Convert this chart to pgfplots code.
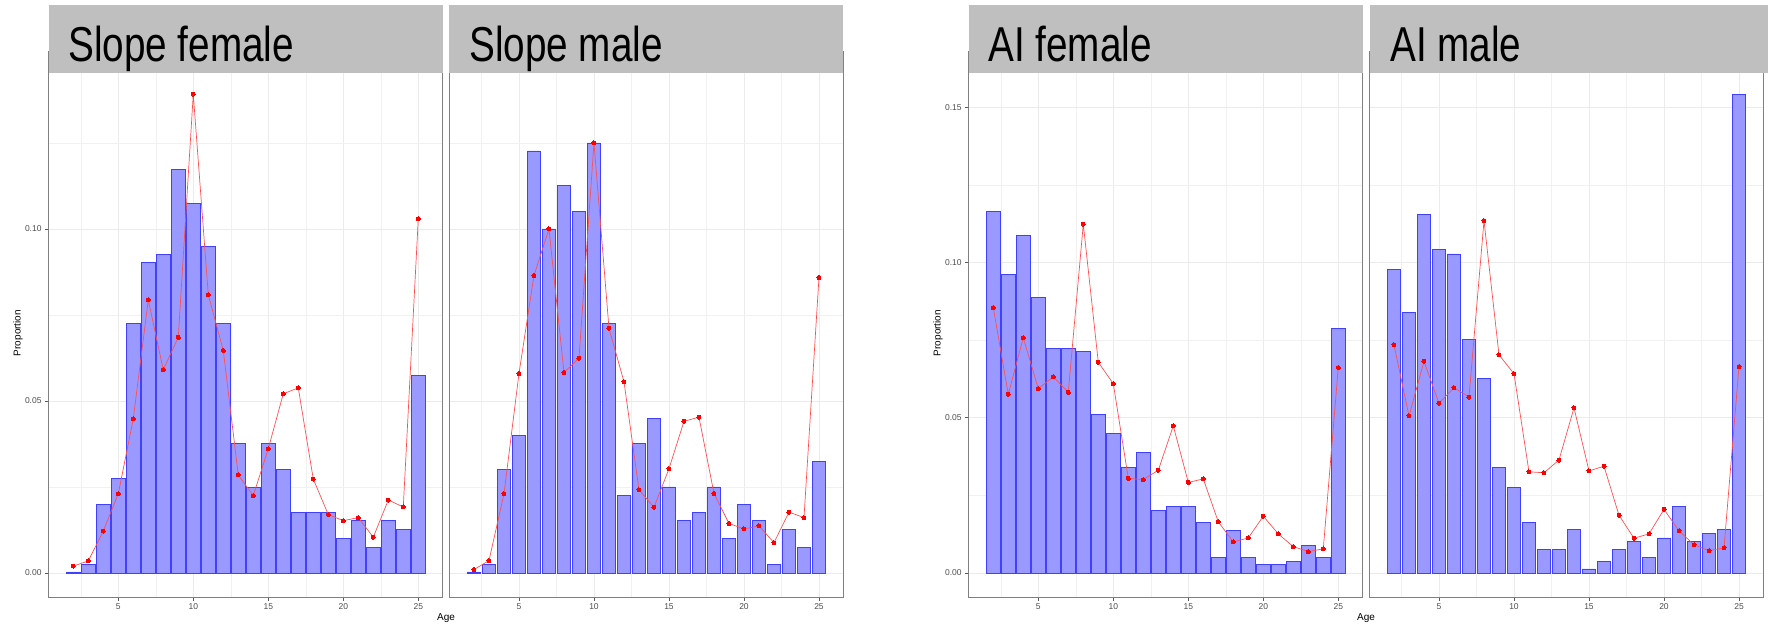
\documentclass[border=0pt]{standalone}
\usepackage{fontspec}
\setmainfont{Liberation Sans}
\usepackage{graphicx}
\usepackage{pgfplots}
\pgfplotsset{compat=1.18}
\definecolor{barfill}{RGB}{153,153,255}
\definecolor{baredge}{RGB}{64,64,255}
\definecolor{linered}{RGB}{255,80,80}
\definecolor{stripgray}{RGB}{191,191,191}
\definecolor{bordergray}{RGB}{128,128,128}
\definecolor{gridgray}{RGB}{235,235,235}
\definecolor{ticklab}{RGB}{77,77,77}
\pgfplotsset{
 panel/.style={
  scale only axis, width=394.35pt, height=545.3pt,
  xmin=0.355, xmax=26.645,
  xtick={5,10,15,20,25}, xticklabels={5,10,15,20,25},
  minor xtick={2.5,7.5,12.5,17.5,22.5},
  grid=both,
  major grid style={gridgray, line width=0.9pt},
  minor grid style={gridgray!70, line width=0.5pt},
  axis line style={bordergray, line width=1pt},
  tick align=outside, tick pos=left,
  major tick length=3.5pt, minor tick length=0pt,
  tick style={bordergray!70!black, line width=0.7pt},
  tick label style={font=\fontsize{8.5}{10}\selectfont, text=ticklab},
  /pgf/number format/assume math mode=true,
  anchor=south west,
 },
 slope/.style={ymin=-0.00698, ymax=0.15154, ytick={0,0.05,0.1}, yticklabels={0.00,0.05,0.10}, minor ytick={0.025,0.075,0.125}},
 ai/.style={ymin=-0.00773, ymax=0.16795, ytick={0,0.05,0.1,0.15}, yticklabels={0.00,0.05,0.10,0.15}, minor ytick={0.025,0.075,0.125}},
 noylab/.style={yticklabels={}, ytick style={draw=none}},
 bars/.style={ybar, bar width=0.9, fill=barfill, draw=baredge, line width=0.8pt},
 pts/.style={linered, line width=0.7pt, mark=*, mark size=2pt, mark options={fill=red, draw=red, line width=0pt}},
}
\pgfplotstableread{
x bar pt
2 0.0003 0.0020
3 0.0025 0.0035
4 0.0200 0.0122
5 0.0275 0.0230
6 0.0726 0.0448
7 0.0902 0.0794
8 0.0925 0.0591
9 0.1174 0.0685
10 0.1075 0.1392
11 0.0950 0.0809
12 0.0726 0.0647
13 0.0376 0.0285
14 0.0249 0.0225
15 0.0376 0.0361
16 0.0301 0.0521
17 0.0175 0.0538
18 0.0175 0.0273
19 0.0175 0.0170
20 0.0101 0.0152
21 0.0152 0.0161
22 0.0074 0.0104
23 0.0152 0.0212
24 0.0126 0.0192
25 0.0575 0.1030
}\slopefemale
\pgfplotstableread{
x bar pt
2 0.0003 0.0010
3 0.0025 0.0036
4 0.0301 0.0230
5 0.0400 0.0580
6 0.1227 0.0865
7 0.1000 0.1000
8 0.1126 0.0583
9 0.1051 0.0624
10 0.1250 0.1250
11 0.0726 0.0711
12 0.0226 0.0556
13 0.0376 0.0242
14 0.0450 0.0191
15 0.0250 0.0303
16 0.0152 0.0441
17 0.0175 0.0453
18 0.0250 0.0231
19 0.0101 0.0144
20 0.0200 0.0128
21 0.0152 0.0137
22 0.0025 0.0088
23 0.0126 0.0177
24 0.0074 0.0161
25 0.0325 0.0859
}\slopemale
\pgfplotstableread{
x bar pt
2 0.1164 0.0855
3 0.0963 0.0576
4 0.1087 0.0758
5 0.0888 0.0594
6 0.0724 0.0632
7 0.0724 0.0582
8 0.0714 0.1124
9 0.0512 0.0679
10 0.0450 0.0610
11 0.0340 0.0305
12 0.0388 0.0301
13 0.0201 0.0331
14 0.0214 0.0474
15 0.0214 0.0292
16 0.0164 0.0303
17 0.0050 0.0165
18 0.0137 0.0100
19 0.0050 0.0113
20 0.0027 0.0183
21 0.0027 0.0126
22 0.0037 0.0085
23 0.0090 0.0069
24 0.0050 0.0078
25 0.0788 0.0662
}\aifemale
\pgfplotstableread{
x bar pt
2 0.0977 0.0735
3 0.0838 0.0506
4 0.1154 0.0682
5 0.1041 0.0547
6 0.1028 0.0597
7 0.0753 0.0567
8 0.0627 0.1135
9 0.0340 0.0703
10 0.0276 0.0642
11 0.0163 0.0326
12 0.0076 0.0323
13 0.0076 0.0364
14 0.0140 0.0532
15 0.0013 0.0329
16 0.0037 0.0344
17 0.0076 0.0186
18 0.0103 0.0112
19 0.0050 0.0126
20 0.0113 0.0205
21 0.0213 0.0136
22 0.0103 0.0091
23 0.0127 0.0072
24 0.0140 0.0081
25 0.1542 0.0665
}\aimale
\begin{document}
\begin{tikzpicture}
\useasboundingbox (0pt,0pt) rectangle (1768pt,624pt);
\begin{axis}[panel, slope, at={(48.6pt,27pt)}]
\addplot[bars] table[x=x,y=bar]{\slopefemale};
\addplot[pts] table[x=x,y=pt]{\slopefemale};
\end{axis}
\begin{axis}[panel, slope, noylab, at={(449.3pt,27pt)}]
\addplot[bars] table[x=x,y=bar]{\slopemale};
\addplot[pts] table[x=x,y=pt]{\slopemale};
\end{axis}
\begin{axis}[panel, ai, at={(968.6pt,27pt)}]
\addplot[bars] table[x=x,y=bar]{\aifemale};
\addplot[pts] table[x=x,y=pt]{\aifemale};
\end{axis}
\begin{axis}[panel, ai, noylab, at={(1369.3pt,27pt)}]
\addplot[bars] table[x=x,y=bar]{\aimale};
\addplot[pts] table[x=x,y=pt]{\aimale};
\end{axis}
% strips
\fill[stripgray] (48.6pt,550.6pt) rectangle (442.6pt,619pt);
\fill[stripgray] (449.3pt,550.6pt) rectangle (843.3pt,619pt);
\fill[stripgray] (969.3pt,550.6pt) rectangle (1363pt,619pt);
\fill[stripgray] (1370.3pt,550.6pt) rectangle (1768pt,619pt);
\node[anchor=base west, inner sep=0] at (68pt,562.3pt) {\scalebox{0.79}[1]{\fontsize{49}{50}\selectfont Slope female}};
\node[anchor=base west, inner sep=0] at (469pt,562.3pt) {\scalebox{0.79}[1]{\fontsize{49}{50}\selectfont Slope male}};
\node[anchor=base west, inner sep=0] at (988pt,562.3pt) {\scalebox{0.79}[1]{\fontsize{49}{50}\selectfont AI female}};
\node[anchor=base west, inner sep=0] at (1390pt,562.3pt) {\scalebox{0.79}[1]{\fontsize{49}{50}\selectfont AI male}};
% axis titles
\node[rotate=90, inner sep=0, font=\fontsize{10}{12}\selectfont] at (18pt,291pt) {Proportion};
\node[rotate=90, inner sep=0, font=\fontsize{10}{12}\selectfont] at (938pt,291pt) {Proportion};
\node[anchor=base, inner sep=0, font=\fontsize{10}{12}\selectfont] at (446pt,4pt) {Age};
\node[anchor=base, inner sep=0, font=\fontsize{10}{12}\selectfont] at (1366pt,4pt) {Age};
\end{tikzpicture}
\end{document}
